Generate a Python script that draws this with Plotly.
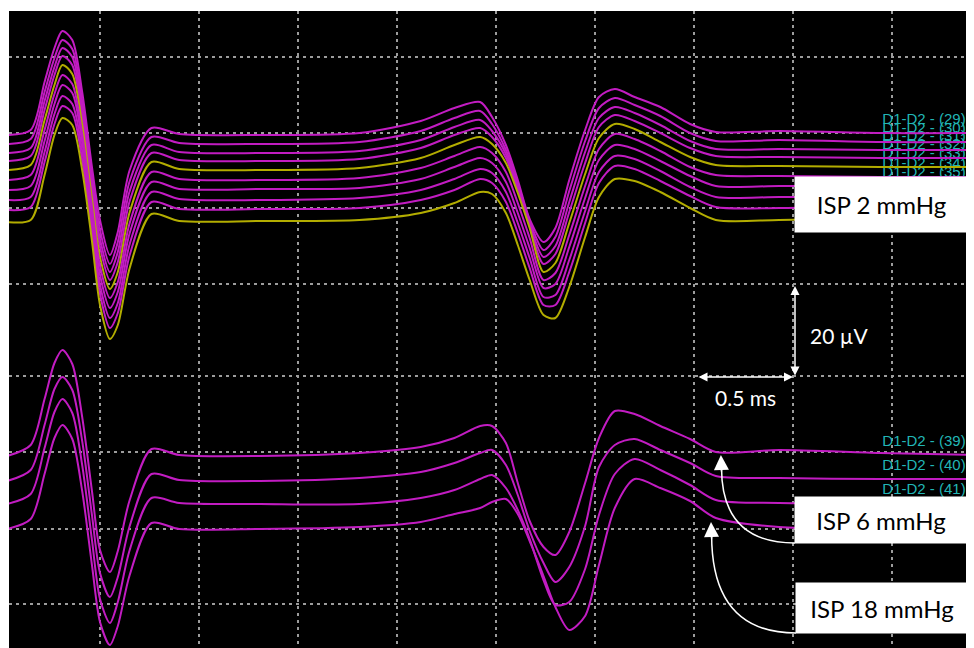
import plotly.graph_objects as go

# ---------------- data (time in ms, amplitude in µV) ----------------
time_ms = [-0.47, -0.35, -0.28, -0.23, -0.19, -0.14, -0.09, -0.04, 0.0, 0.05,
           0.09, 0.15, 0.26, 0.40, 0.81, 1.31, 1.62, 1.79, 1.92, 1.98,
           2.05, 2.11, 2.17, 2.24, 2.30, 2.37, 2.45, 2.52, 2.60, 2.70,
           2.83, 2.98, 3.11, 3.43, 3.94, 4.42]

# ISP 2 mmHg recordings (channels 29-38)
ch29 = [102.6, 103.6, 113.2, 120.0, 123.4, 121.6, 111.2, 96.0, 85.6, 78.6, 83.2, 95.6, 104.0, 102.8, 102.6, 103.0, 105.4, 108.0, 109.2, 106.2, 100.6, 93.6, 85.8, 81.2, 84.0, 93.6, 103.6, 110.2, 111.8, 110.2, 108.2, 104.8, 103.2, 103.4, 103.0, 103.0]
ch30 = [100.8, 101.8, 111.2, 118.0, 121.6, 119.8, 109.4, 94.4, 83.6, 76.8, 81.2, 93.4, 102.2, 101.0, 100.8, 101.2, 103.4, 106.0, 107.4, 104.8, 99.6, 93.0, 85.4, 79.6, 82.2, 91.4, 101.4, 108.0, 110.0, 108.6, 106.4, 103.0, 101.4, 101.6, 101.2, 101.2]
ch31 = [99.0, 100.0, 109.4, 116.2, 120.0, 118.2, 107.8, 92.8, 81.8, 75.2, 79.2, 91.4, 100.6, 99.2, 99.0, 99.4, 101.6, 104.2, 105.6, 103.4, 98.8, 92.2, 84.8, 78.2, 80.4, 89.2, 99.2, 106.0, 108.2, 107.0, 104.6, 101.4, 99.8, 99.8, 99.6, 99.6]
ch32 = [97.4, 98.4, 107.6, 114.6, 118.4, 116.6, 106.4, 91.2, 80.2, 73.6, 77.2, 89.4, 99.0, 97.6, 97.4, 97.8, 100.0, 102.6, 104.0, 102.2, 98.0, 91.6, 84.4, 76.8, 78.8, 87.2, 97.0, 104.2, 106.6, 105.4, 103.0, 100.0, 98.4, 98.2, 98.0, 98.0]
ch33 = [95.6, 96.6, 105.6, 112.6, 116.6, 114.8, 104.6, 89.6, 78.2, 71.8, 75.2, 87.2, 97.2, 95.8, 95.6, 96.0, 98.0, 100.6, 102.2, 100.8, 97.0, 91.0, 84.0, 75.2, 77.0, 85.0, 94.8, 102.0, 104.8, 103.8, 101.2, 98.2, 96.6, 96.4, 96.2, 96.2]
ch34 = [93.6, 94.6, 103.6, 110.8, 114.6, 112.8, 102.8, 88.0, 76.4, 70.0, 73.2, 85.0, 95.2, 93.8, 93.6, 94.0, 96.0, 98.4, 100.2, 99.0, 95.2, 89.0, 82.0, 73.6, 75.0, 82.6, 92.4, 99.8, 102.8, 101.8, 99.4, 96.2, 94.6, 94.4, 94.2, 94.2]
ch35 = [91.6, 92.4, 101.4, 108.8, 112.6, 111.0, 101.2, 86.4, 74.6, 68.0, 71.2, 83.0, 93.2, 91.8, 91.8, 92.0, 93.8, 96.2, 98.0, 97.0, 93.2, 87.0, 80.0, 72.0, 72.8, 80.2, 90.0, 97.6, 100.6, 99.8, 97.4, 94.4, 92.4, 92.4, 92.4, 92.4]
ch36 = [89.6, 90.2, 99.2, 106.8, 110.4, 108.8, 99.4, 84.8, 72.6, 66.0, 69.0, 80.8, 91.2, 89.8, 89.6, 90.0, 91.6, 93.8, 95.8, 95.0, 91.2, 85.0, 78.0, 70.2, 70.6, 77.6, 87.4, 95.2, 98.4, 97.8, 95.4, 92.2, 90.2, 90.2, 90.2, 90.2]
ch37 = [87.6, 88.2, 97.2, 104.8, 108.4, 107.0, 97.6, 83.2, 70.8, 64.0, 67.0, 78.6, 89.2, 87.8, 87.8, 88.0, 89.6, 91.6, 93.8, 93.0, 89.2, 83.0, 76.0, 68.6, 68.6, 75.2, 85.0, 93.0, 96.4, 95.8, 93.4, 90.4, 88.2, 88.0, 88.4, 88.4]
ch38 = [85.2, 85.6, 94.6, 102.6, 106.0, 104.6, 95.6, 81.2, 68.6, 61.8, 64.6, 76.0, 86.8, 85.4, 85.4, 85.6, 87.0, 89.0, 91.2, 90.8, 87.0, 80.6, 73.6, 66.6, 66.0, 72.2, 82.2, 90.2, 93.8, 93.4, 91.2, 88.0, 85.6, 85.6, 86.0, 86.0]

# ISP 6 / 18 mmHg recordings (channels 39-42)
ch39 = [38.4, 40.6, 49.8, 57.0, 59.6, 56.8, 46.2, 31.2, 19.6, 15.2, 19.4, 29.6, 39.8, 38.6, 38.4, 39.0, 40.2, 42.0, 44.4, 44.4, 41.0, 33.0, 25.4, 20.2, 18.6, 23.2, 33.0, 42.0, 47.4, 46.8, 44.4, 41.8, 39.2, 39.6, 39.0, 38.6]
ch40 = [33.4, 35.6, 44.6, 51.8, 54.2, 51.6, 41.4, 26.4, 15.0, 10.2, 14.2, 24.4, 34.8, 33.6, 33.4, 34.0, 35.2, 37.0, 39.0, 39.6, 36.6, 30.6, 23.4, 17.0, 13.2, 16.2, 24.4, 36.2, 40.6, 41.8, 39.6, 37.0, 34.4, 34.0, 33.8, 33.8]
ch41 = [28.8, 30.8, 40.0, 47.2, 49.8, 47.0, 36.6, 21.4, 9.8, 5.0, 9.2, 19.6, 30.0, 29.0, 28.8, 28.8, 30.0, 31.6, 33.8, 34.6, 32.0, 27.6, 21.8, 13.6, 8.6, 9.2, 15.8, 26.6, 34.8, 37.8, 35.6, 32.6, 29.6, 29.0, 29.0, 29.0]
ch42 = [23.8, 25.8, 34.8, 42.0, 44.6, 41.8, 31.4, 16.4, 5.2, 0.6, 4.4, 14.6, 25.0, 23.8, 23.8, 24.2, 25.2, 26.8, 28.0, 29.2, 29.8, 26.8, 21.4, 14.4, 8.2, 3.6, 6.4, 16.6, 28.0, 33.8, 32.0, 29.4, 26.0, 24.2, 24.0, 24.0]

channel_labels = ["D1-D2 - (29)", "D1-D2 - (30)", "D1-D2 - (31)", "D1-D2 - (32)", "D1-D2 - (33)",
                  "D1-D2 - (34)", "D1-D2 - (35)", "D1-D2 - (36)", "D1-D2 - (37)", "D1-D2 - (38)",
                  "D1-D2 - (39)", "D1-D2 - (40)", "D1-D2 - (41)", "D1-D2 - (42)"]
channel_kind = ["m", "m", "m", "m", "y", "m", "m", "m", "m", "y", "m", "m", "m", "m"]

grid_x_ms = [0, 0.5, 1.0, 1.5, 2.0, 2.5, 3.0, 3.5, 4.0]
grid_y_uv = [8.8, 23.8, 39.2, 54.4, 72.8, 88.0, 103.0, 118.2]

box_texts = ["ISP 2 mmHg", "ISP 6 mmHg", "ISP 18 mmHg"]
scale_texts = ["0.5 ms", "20 µV"]

# ---------------- styling ----------------
MAGENTA = "#c21cc2"
YELLOW = "#b3ad00"
CYAN = "#22b6b6"

series = [ch29, ch30, ch31, ch32, ch33, ch34, ch35, ch36, ch37, ch38, ch39, ch40, ch41, ch42]

fig = go.Figure()

# channel labels (drawn first so the traces pass over them)
fig.add_trace(go.Scatter(
    x=[4.372] * len(series),
    y=[s[-1] + 2.6 for s in series],
    text=channel_labels,
    mode="text",
    textposition="middle left",
    textfont=dict(family="Liberation Sans, Arial, sans-serif", size=15, color=CYAN),
    hoverinfo="skip", showlegend=False, cliponaxis=False,
))

for s, k, name in zip(series, channel_kind, channel_labels):
    fig.add_trace(go.Scatter(
        x=time_ms, y=s, mode="lines", name=name,
        line=dict(color=MAGENTA if k == "m" else YELLOW, width=2, shape="spline", smoothing=0.8),
        showlegend=False,
    ))

fig.update_xaxes(range=[-0.4596, 4.4141], tickvals=grid_x_ms, showticklabels=False,
                 showgrid=True, gridcolor="#9c9c9c", gridwidth=1.5, griddash="3px,4px",
                 zeroline=False, showline=False, ticks="")
fig.update_yaxes(range=[0, 127.4], tickvals=grid_y_uv, showticklabels=False,
                 showgrid=True, gridcolor="#9c9c9c", gridwidth=1.5, griddash="3px,4px",
                 zeroline=False, showline=False, ticks="")

annotations = []
# white ISP boxes
box_pos = [(3.947, 88.7, 173, 55), (3.944, 25.6, 172, 46), (3.950, 8.0, 172, 50)]
for txt, (bx, by, bw, bh) in zip(box_texts, box_pos):
    annotations.append(dict(x=bx, y=by, xref="x", yref="y", text=txt, showarrow=False,
                            xanchor="center", yanchor="middle", width=bw, height=bh,
                            bgcolor="white", borderpad=0, align="center", valign="middle",
                            font=dict(family="Lato, sans-serif", size=24, color="black")))

# scale bar double arrows
arrow_style = dict(showarrow=True, arrowcolor="white", arrowwidth=1.5, arrowhead=2,
                   startarrowhead=2, arrowside="end+start", arrowsize=1.2, startarrowsize=1.2,
                   text="", xref="x", yref="y", axref="x", ayref="y", standoff=0, startstandoff=0)
annotations.append(dict(x=3.500, y=54.2, ax=3.015, ay=54.2, **arrow_style))
annotations.append(dict(x=3.510, y=72.4, ax=3.510, ay=54.2, **arrow_style))
annotations.append(dict(x=3.258, y=50.2, xref="x", yref="y", text=scale_texts[0], showarrow=False,
                        font=dict(family="Lato, sans-serif", size=21, color="white")))
annotations.append(dict(x=3.732, y=62.6, xref="x", yref="y", text=scale_texts[1], showarrow=False,
                        font=dict(family="Lato, sans-serif", size=21, color="white")))

# arrow heads of the curved pointers
head = dict(showarrow=True, arrowcolor="white", arrowwidth=1.5, arrowhead=2, arrowsize=2,
            text="", xref="x", yref="y", axref="x", ayref="y", standoff=0)
annotations.append(dict(x=3.136, y=38.6, ax=3.139, ay=35.0, **head))
annotations.append(dict(x=3.086, y=25.2, ax=3.089, ay=21.6, **head))

shapes = [
    dict(type="path", xref="x", yref="y", path="M 3.510,21.0 Q 3.139,21.0 3.139,36.0",
         line=dict(color="white", width=1.5)),
    dict(type="path", xref="x", yref="y", path="M 3.515,3.0 Q 3.089,3.0 3.089,22.6",
         line=dict(color="white", width=1.5)),
]

# the page adds an 8 px body margin, so the figure is 8 px smaller and the
# plot margins are reduced by the same amount
fig.update_layout(
    width=966, height=640, autosize=False,
    margin=dict(l=1, r=0, t=3, b=0, pad=0),
    paper_bgcolor="white", plot_bgcolor="black",
    annotations=annotations, shapes=shapes, showlegend=False,
)

fig.write_html("out.html")
